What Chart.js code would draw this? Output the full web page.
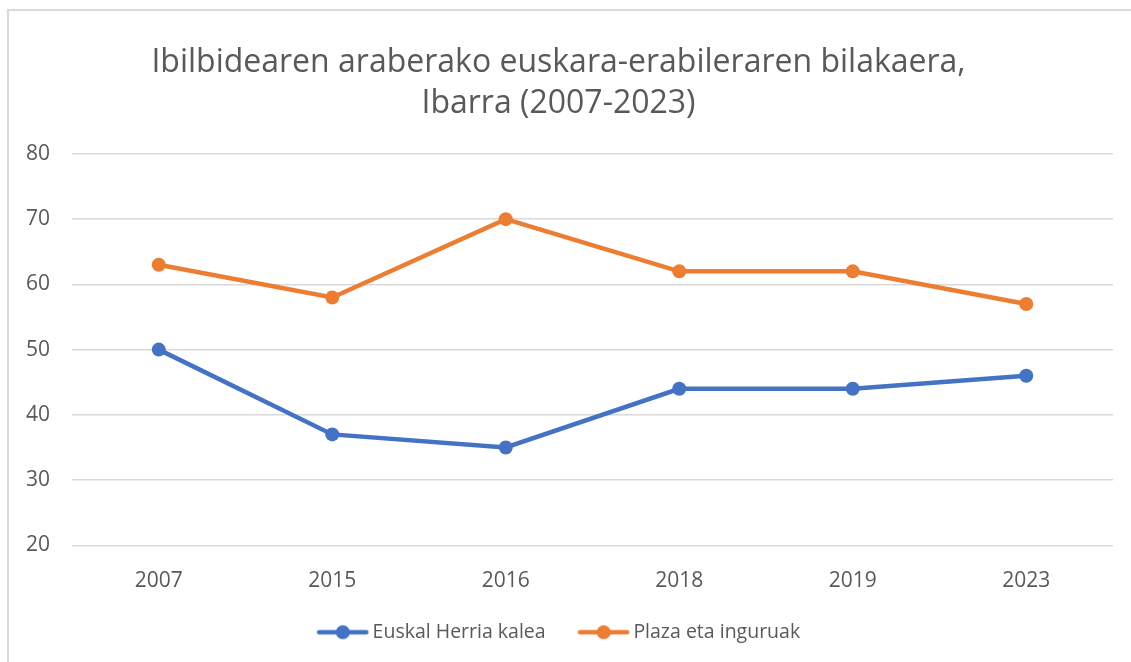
<!DOCTYPE html>
<html>
<head>
<meta charset="utf-8">
<script src="https://cdn.jsdelivr.net/npm/chart.js@4.4.1/dist/chart.umd.min.js"></script>
<style>
  html, body { margin: 0; padding: 0; background: #fff; overflow: hidden; }
  #marco { position: absolute; left: 7px; top: 9px; width: 1200px; height: 700px; border: 2px solid #d9d9d9; box-sizing: border-box; }
  #wrap { position: absolute; left: 0; top: 0; width: 1131px; height: 662px; }
</style>
</head>
<body>
<div id="marco"></div>
<div id="wrap"><canvas id="grafico"></canvas></div>
<script>
const urteak = ['2007', '2015', '2016', '2018', '2019', '2023'];
const euskalHerriaKalea = [50, 37, 35, 44, 44, 46];
const plazaEtaInguruak = [63, 58, 70, 62, 62, 57];
const izenburua = ['Ibilbidearen araberako euskara-erabileraren bilakaera,', 'Ibarra (2007-2023)'];

const urdina = '#4472C4';
const laranja = '#ED7D31';
const grisa = '#595959';

// legendako ikurra: marra + zirkulua (eskuinera lerratuta, elementuen artean tarte handiagoa uzteko)
function legendaIkurra(kolorea) {
  const c = document.createElement('canvas');
  c.width = 100; c.height = 18;
  const g = c.getContext('2d');
  g.strokeStyle = kolorea;
  g.lineWidth = 4.5;
  g.lineCap = 'round';
  g.beginPath();
  g.moveTo(42.25, 9); g.lineTo(89.5, 9);
  g.stroke();
  g.fillStyle = kolorea;
  g.beginPath();
  g.arc(66, 9, 7, 0, Math.PI * 2);
  g.fill();
  return c;
}
const ikurrak = [legendaIkurra(urdina), legendaIkurra(laranja)];

// ikurraren hasierako hutsunea konpentsatzeko, legenda ezkerrera
const legendaZuzendu = {
  id: 'legendaZuzendu',
  afterUpdate(chart) {
    if (chart.legend && chart.legend.lineWidths) chart.legend.lineWidths[0] += 26;
  }
};

new Chart(document.getElementById('grafico'), {
  type: 'line',
  data: {
    labels: urteak,
    datasets: [{
      label: 'Euskal Herria kalea',
      data: euskalHerriaKalea,
      borderColor: urdina,
      backgroundColor: urdina,
      borderWidth: 4.5,
      pointRadius: 7,
      pointHoverRadius: 7,
      pointBorderWidth: 0
    }, {
      label: 'Plaza eta inguruak',
      data: plazaEtaInguruak,
      borderColor: laranja,
      backgroundColor: laranja,
      borderWidth: 4.5,
      pointRadius: 7,
      pointHoverRadius: 7,
      pointBorderWidth: 0
    }]
  },
  options: {
    responsive: true,
    maintainAspectRatio: false,
    animation: false,
    layout: { padding: { left: 4, right: 18, top: 0, bottom: 10 } },
    plugins: {
      title: {
        display: true,
        text: izenburua,
        color: grisa,
        font: { family: 'Open Sans', size: 32, weight: 'normal', lineHeight: 1.28 },
        padding: { top: 42, bottom: 30 }
      },
      legend: {
        position: 'bottom',
        labels: {
          usePointStyle: true,
          pointStyleWidth: 72,
          color: grisa,
          font: { family: 'Open Sans', size: 19.5 },
          padding: 6,
          generateLabels(chart) {
            const zerrenda = Chart.defaults.plugins.legend.labels.generateLabels(chart);
            zerrenda.forEach((l, i) => { l.pointStyle = ikurrak[i]; });
            return zerrenda;
          }
        }
      },
      tooltip: { enabled: false }
    },
    scales: {
      x: {
        offset: true,
        grid: { display: false, drawTicks: false },
        border: { display: false },
        ticks: { color: grisa, font: { family: 'Open Sans', size: 21 }, padding: 23 }
      },
      y: {
        min: 20,
        max: 80,
        grid: { color: '#d9d9d9', lineWidth: 1.5, drawTicks: false },
        border: { display: false },
        ticks: { stepSize: 10, color: grisa, font: { family: 'Open Sans', size: 21 }, padding: 22 }
      }
    }
  },
  plugins: [legendaZuzendu]
});
</script>
</body>
</html>
